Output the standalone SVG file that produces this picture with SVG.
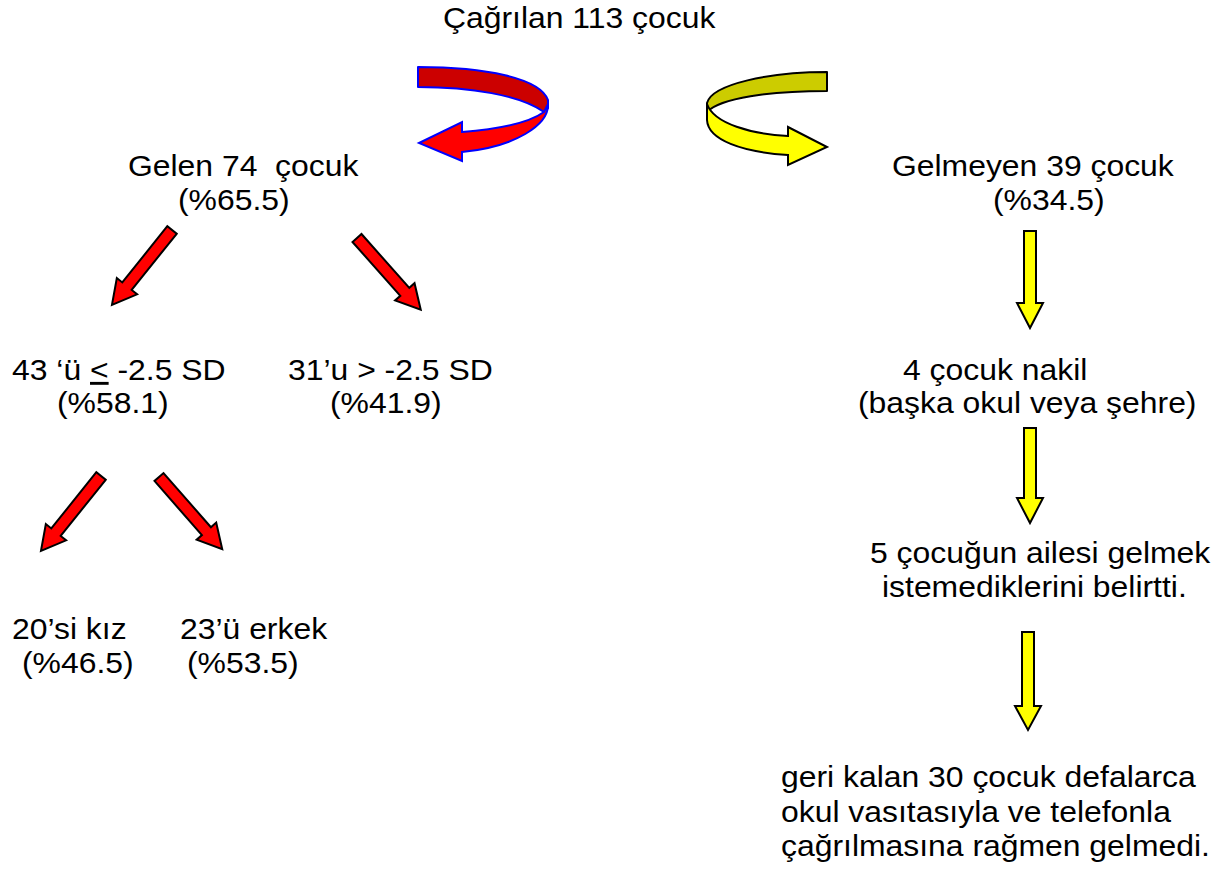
<svg xmlns="http://www.w3.org/2000/svg" width="1227" height="869" viewBox="0 0 1227 869">
<style>
  text { font-family: "Liberation Sans", Arial, sans-serif; font-size: 29px; fill: #000; white-space: pre; }
  .red { fill: #FF0000; stroke: #000; stroke-width: 2; stroke-linejoin: miter; }
  .yel { fill: #FFFF00; stroke: #000; stroke-width: 2; stroke-linejoin: miter; }
</style>
<defs>
  <path id="diag" d="M0,-6 L72,-6 L72,-13 L96,0 L72,13 L72,6 L0,6 Z"/>
</defs>
<rect width="1227" height="869" fill="#fff"/>

<g id="connectors">
  <g id="curved-red">
    <path d="M418,67 C485,67 540,78 548,100 L548,108 L544,112 C520,95 470,87 418,87 Z" fill="#CC0000" stroke="#0000FF" stroke-width="2" stroke-linejoin="round"/>
    <path d="M548,104 C549,125 515,147 462,152 L462,161 L419,143 L462,122 L462,132 C500,129 530,122 544,112 Z" fill="#FF0000" stroke="#0000FF" stroke-width="2" stroke-linejoin="miter"/>
  </g>
  <g id="curved-yellow">
    <path d="M827,72 C770,72 712,84 707,103 L707,112 C720,98 770,91 827,91 Z" fill="#CCCC00" stroke="#000" stroke-width="2" stroke-linejoin="round"/>
    <path d="M707,104 C714,124 752,134 788,136 L788,127 L827,147 L788,165 L788,155 C742,152 708,140 707,120 Z" fill="#FFFF00" stroke="#000" stroke-width="2" stroke-linejoin="miter"/>
  </g>
  <use href="#diag" class="red" transform="translate(172,230) rotate(128.7)"/>
  <use href="#diag" class="red" transform="translate(357,238) rotate(48.4)"/>
  <use href="#diag" class="red" transform="translate(101,476) rotate(128.7)"/>
  <use href="#diag" class="red" transform="translate(159,477) rotate(48.8)"/>
  <path class="yel" d="M1024,231 L1036,231 L1036,303 L1043,303 L1030,328 L1017,303 L1024,303 Z"/>
  <path class="yel" d="M1024,428 L1036,428 L1036,498 L1043,498 L1030,523 L1017,498 L1024,498 Z"/>
  <path class="yel" d="M1022,632 L1034,632 L1034,706 L1041,706 L1028,730 L1015,706 L1022,706 Z"/>
</g>

<g id="n-root"><text transform="translate(443,28) scale(1.1,1)">Çağrılan 113 çocuk</text></g>

<g id="n-gelen">
  <text transform="translate(128,176) scale(1.1,1)">Gelen 74  çocuk</text>
  <text transform="translate(178,210) scale(1.1,1)">(%65.5)</text>
</g>

<g id="n-gelmeyen">
  <text transform="translate(892,176) scale(1.1,1)">Gelmeyen 39 çocuk</text>
  <text transform="translate(993,210) scale(1.1,1)">(%34.5)</text>
</g>

<g id="n-43">
  <text transform="translate(12,380) scale(1.1,1)">43 ‘ü <tspan text-decoration="underline">&lt;</tspan> -2.5 SD</text>
  <text transform="translate(57,413) scale(1.1,1)">(%58.1)</text>
</g>

<g id="n-31">
  <text transform="translate(288,380) scale(1.1,1)">31’u &gt; -2.5 SD</text>
  <text transform="translate(330,413) scale(1.1,1)">(%41.9)</text>
</g>

<g id="n-nakil">
  <text transform="translate(903,380) scale(1.1,1)">4 çocuk nakil</text>
  <text transform="translate(858,413) scale(1.1,1)">(başka okul veya şehre)</text>
</g>

<g id="n-aile">
  <text transform="translate(870,563) scale(1.1,1)">5 çocuğun ailesi gelmek</text>
  <text transform="translate(882,597) scale(1.1,1)">istemediklerini belirtti.</text>
</g>

<g id="n-kiz">
  <text transform="translate(12,639) scale(1.1,1)">20’si kız</text>
  <text transform="translate(22,673) scale(1.1,1)">(%46.5)</text>
</g>

<g id="n-erkek">
  <text transform="translate(180,639) scale(1.1,1)">23’ü erkek</text>
  <text transform="translate(187,673) scale(1.1,1)">(%53.5)</text>
</g>

<g id="n-geri">
  <text transform="translate(781,787) scale(1.1,1)">geri kalan 30 çocuk defalarca</text>
  <text transform="translate(781,822) scale(1.1,1)">okul vasıtasıyla ve telefonla</text>
  <text transform="translate(781,856) scale(1.1,1)">çağrılmasına rağmen gelmedi.</text>
</g>
</svg>
